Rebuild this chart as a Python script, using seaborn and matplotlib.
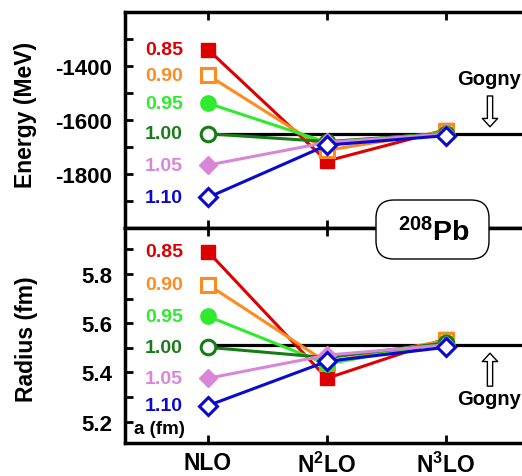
import matplotlib
matplotlib.use("Agg")
import matplotlib.pyplot as plt
import seaborn as sns
import numpy as np
import pandas as pd
from matplotlib.patches import FancyBboxPatch
from matplotlib.transforms import IdentityTransform

# Style
sns.set_theme(style="ticks")
plt.rcParams['font.family'] = ['Liberation Sans', 'DejaVu Sans']
plt.rcParams['font.weight'] = 'bold'
plt.rcParams['text.color'] = 'black'
plt.rcParams['axes.labelcolor'] = 'black'
plt.rcParams['xtick.color'] = 'black'
plt.rcParams['ytick.color'] = 'black'
plt.rcParams['axes.unicode_minus'] = False
plt.rcParams['mathtext.fontset'] = 'custom'
plt.rcParams['mathtext.rm'] = 'Liberation Sans:bold'
plt.rcParams['mathtext.bf'] = 'Liberation Sans:bold'
plt.rcParams['mathtext.it'] = 'Liberation Sans:bold'

# Data
orders = ["NLO", "N$^2$LO", "N$^3$LO"]
cutoffs = ["0.85", "0.90", "0.95", "1.00", "1.05", "1.10"]

energy_nlo = [-1339, -1434, -1538, -1651, -1767, -1887]
energy_n2lo = [-1752, -1712, -1683, -1680, -1683, -1693]
energy_n3lo = [-1636, -1642, -1648, -1650, -1652, -1658]

radius_nlo = [5.891, 5.757, 5.628, 5.502, 5.376, 5.265]
radius_n2lo = [5.376, 5.440, 5.434, 5.460, 5.470, 5.445]
radius_n3lo = [5.537, 5.530, 5.524, 5.520, 5.512, 5.502]

GOGNY_ENERGY = -1650
GOGNY_RADIUS = 5.512

# Series styles: color, marker, size, filled
COLORS = ['#DD0000', '#FF8A1F', '#2EEB2E', '#167D16', '#D887D8', '#0A0ACC']
MARKERS = ['s', 's', 'o', 'o', 'D', 'D']
MSIZES = [10.5, 10.0, 11.0, 10.5, 9.0, 9.0]
FILLED = [True, False, True, False, True, False]

rows = []
for i, c in enumerate(cutoffs):
    for j, (e, r) in enumerate(zip([energy_nlo[i], energy_n2lo[i], energy_n3lo[i]],
                                    [radius_nlo[i], radius_n2lo[i], radius_n3lo[i]])):
        rows.append({'cutoff': c, 'pos': j, 'energy': e, 'radius': r})
df = pd.DataFrame(rows)

fig = plt.figure(figsize=(5.22, 4.77), dpi=100)
ax1 = fig.add_axes([125 / 522, 248 / 477, 400 / 522, 216 / 477])
ax2 = fig.add_axes([125 / 522, 33 / 477, 400 / 522, 215 / 477])

for ax, col, gogny in [(ax1, 'energy', GOGNY_ENERGY), (ax2, 'radius', GOGNY_RADIUS)]:
    ax.hlines(gogny, 0, 2.8, color='black', lw=2.3, zorder=1.5)
    for i, c in enumerate(cutoffs):
        sub = df[df['cutoff'] == c]
        sns.lineplot(data=sub, x='pos', y=col, ax=ax, color=COLORS[i],
                     marker=MARKERS[i], markersize=MSIZES[i],
                     markerfacecolor=COLORS[i] if FILLED[i] else 'white',
                     markeredgecolor=COLORS[i],
                     markeredgewidth=1.0 if FILLED[i] else 2.2,
                     linewidth=2.2, estimator=None, errorbar=None,
                     legend=False, sort=False, zorder=2)
        y0 = sub[col].iloc[0]
        ax.text(-0.21, y0, c, ha='right', va='center', color=COLORS[i],
                fontsize=14, fontweight='bold')
    ax.set_xlim(-0.697, 2.664)
    ax.set_xticks([0, 1, 2])
    ax.set_xlabel('')
    ax.set_ylabel('')
    for s in ['top', 'bottom', 'left', 'right']:
        ax.spines[s].set_linewidth(2.5)
        ax.spines[s].set_color('black')
    ax.tick_params(axis='both', which='both', direction='in', length=6,
                   width=2, color='black', labelcolor='black', top=True,
                   bottom=True, left=True, right=False, labelsize=16, pad=9)

# Top panel: energies
ax1.set_ylim(-2000, -1200)
ax1.set_yticks([-1800, -1600, -1400])
ax1.set_yticks([-1900, -1700, -1500, -1300], minor=True)
ax1.set_xticklabels([])
ax1.annotate('', xy=(2.37, -1625), xytext=(2.37, -1511),
             arrowprops=dict(arrowstyle='simple,head_length=0.6,head_width=1.1,tail_width=0.38',
                             fc='white', ec='black', lw=1, shrinkA=0, shrinkB=0,
                             mutation_scale=10))
ax1.text(2.36, -1445, 'Gogny', ha='center', va='center', fontsize=14.5, fontweight='bold')

# Bottom panel: radii
ax2.set_ylim(5.113, 5.987)
ax2.set_yticks([5.2, 5.4, 5.6, 5.8])
ax2.set_yticks([5.3, 5.5, 5.7, 5.9], minor=True)
ax2.set_xticklabels(orders, fontsize=16.5, fontweight='bold')
ax2.tick_params(axis='x', pad=6)
ax2.annotate('', xy=(2.37, 5.478), xytext=(2.37, 5.344),
             arrowprops=dict(arrowstyle='simple,head_length=0.6,head_width=1.1,tail_width=0.38',
                             fc='white', ec='black', lw=1, shrinkA=0, shrinkB=0,
                             mutation_scale=10))
ax2.text(2.36, 5.292, 'Gogny', ha='center', va='center', fontsize=14.5, fontweight='bold')
ax2.text(-0.62, 5.17, 'a (fm)', ha='left', va='center', fontsize=13.5, fontweight='bold')

for ax in (ax1, ax2):
    for lab in ax.get_yticklabels():
        lab.set_fontweight('bold')

fig.text(26 / 522, (477 - 115) / 477, 'Energy (MeV)', rotation=90, ha='center',
         va='center', fontsize=16.5, fontweight='bold', color='black')
fig.text(26 / 522, (477 - 339) / 477, 'Radius (fm)', rotation=90, ha='center',
         va='center', fontsize=16.5, fontweight='bold', color='black')

# Nucleus label box straddling the two panels
box = FancyBboxPatch((376, 477 - 260), 113, 59, boxstyle='round,pad=0,rounding_size=18',
                     transform=IdentityTransform(), fc='white', ec='black', lw=1, zorder=5)
fig.add_artist(box)
fig.text(433.5 / 522, (477 - 241) / 477, r'$^{208}$Pb', ha='center', va='baseline',
         fontsize=20.5, fontweight='bold', color='black', zorder=6)

fig.savefig('out.png', dpi=100)
